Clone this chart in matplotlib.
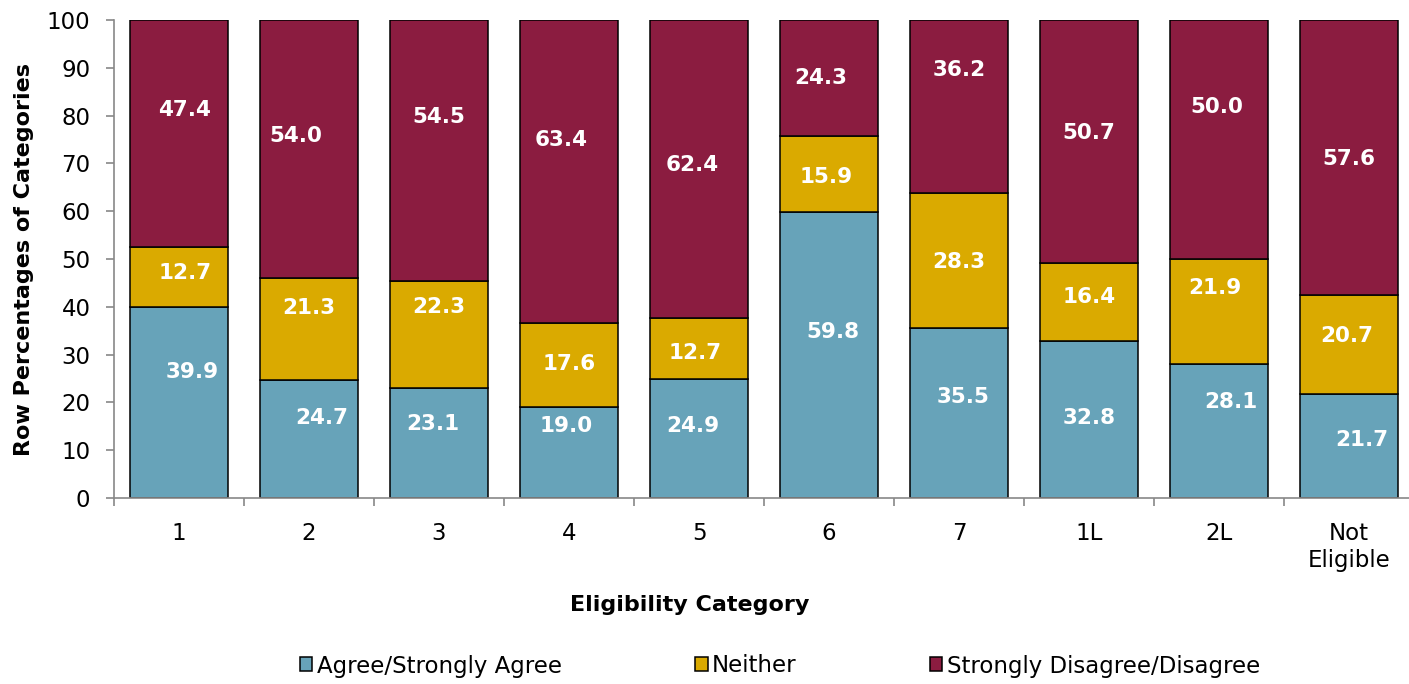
import matplotlib
matplotlib.use("Agg")
import matplotlib.pyplot as plt
import numpy as np

# ---- data ----
categories = ["1", "2", "3", "4", "5", "6", "7", "1L", "2L", "Not\nEligible"]
agree = [39.9, 24.7, 23.1, 19.0, 24.9, 59.8, 35.5, 32.8, 28.1, 21.7]
neither = [12.7, 21.3, 22.3, 17.6, 12.7, 15.9, 28.3, 16.4, 21.9, 20.7]
disagree = [47.4, 54.0, 54.5, 63.4, 62.4, 24.3, 36.2, 50.7, 50.0, 57.6]
series_names = ["Agree/Strongly Agree", "Neither", "Strongly Disagree/Disagree"]

# ---- label nudges (layout only; category units / data units) ----
agree_dx = [0.10, 0.10, -0.05, -0.02, -0.05, 0.03, 0.03, 0.0, 0.09, 0.10]
agree_dy = [6.4, 4.4, 3.9, 5.6, 2.6, 4.8, 3.4, 0.3, 6.0, 1.3]
neither_dx = [0.05, 0.0, 0.0, 0.0, -0.03, -0.02, 0.0, 0.0, -0.03, -0.02]
neither_dy = [0.8, 4.4, 5.7, 0.2, -0.9, -0.6, -0.3, 1.1, 4.9, 1.8]
disagree_dx = [0.04, -0.10, 0.0, -0.06, -0.05, -0.06, 0.0, 0.0, -0.02, 0.0]
disagree_dy = [4.9, 2.7, 7.05, 6.6, 0.9, 0.0, 7.6, 1.8, 6.8, -0.3]

colors = ["#67A3B9", "#DAAA00", "#8B1C40"]
plt.rcParams["font.family"] = ["DejaVu Sans"]

W, H = 1409, 684
fig = plt.figure(figsize=(W / 100, H / 100), dpi=100)
ax = fig.add_axes([114 / W, (H - 498) / H, 1300 / W, 478 / H])

x = np.arange(len(categories))
values = [agree, neither, disagree]
dxs = [agree_dx, neither_dx, disagree_dx]
dys = [agree_dy, neither_dy, disagree_dy]
bottom = np.zeros(len(categories))
handles = []
for vals, col, name, dx, dy in zip(values, colors, series_names, dxs, dys):
    vals = np.array(vals)
    b = ax.bar(x, vals, 0.754, bottom=bottom, color=col, edgecolor="black",
               linewidth=1.1, label=name, zorder=2)
    handles.append(b)
    for i, v in enumerate(vals):
        ax.text(x[i] + dx[i], bottom[i] + v / 2 + dy[i], f"{v:.1f}",
                ha="center", va="center", color="white", fontsize=15.5,
                fontweight="bold", zorder=3)
    bottom = bottom + vals

ax.set_xlim(-0.5, 9.5)
ax.set_ylim(0, 100)
ax.set_yticks(np.arange(0, 101, 10))
ax.set_xticks(x)
ax.set_xticklabels(categories, fontsize=16.5, linespacing=1.22)
ax.set_xticks(np.arange(-0.5, 10, 1), minor=True)
ax.tick_params(axis="x", which="major", length=0, pad=17)
ax.tick_params(axis="x", which="minor", length=6, color="#888888", width=1.2)
ax.tick_params(axis="y", which="major", length=6, color="#888888", width=1.2,
               labelsize=16.5, pad=11)

for s in ["top", "right"]:
    ax.spines[s].set_visible(False)
for s in ["left", "bottom"]:
    ax.spines[s].set_color("#888888")
    ax.spines[s].set_linewidth(1.2)

fig.text(24 / W, 1 - 259 / H, "Row Percentages of Categories", rotation=90,
         ha="center", va="center", fontsize=16, fontweight="bold")
fig.text(690 / W, 1 - 605 / H, "Eligibility Category", ha="center",
         va="center", fontsize=16, fontweight="bold")

fig.legend(handles=handles, labels=series_names, loc="center",
           bbox_to_anchor=(780 / W, 1 - 666 / H), ncol=3, frameon=False,
           fontsize=16.5, handlelength=0.55, handleheight=0.55,
           handletextpad=0.2, columnspacing=5.8)

fig.savefig("out.png", dpi=100)
